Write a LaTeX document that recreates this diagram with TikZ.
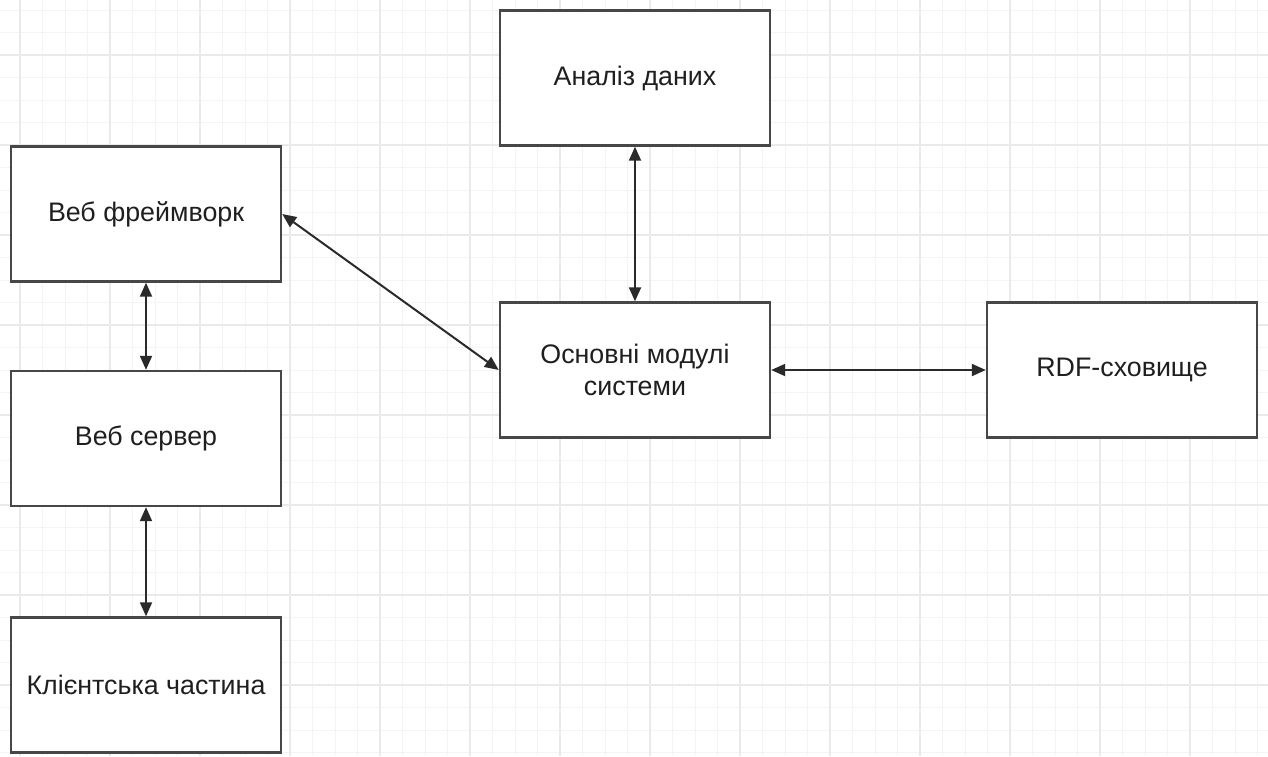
\documentclass[tikz,border=0pt]{standalone}
\usepackage{fontspec}
\setmainfont{Liberation Sans}
\usetikzlibrary{arrows.meta}
\definecolor{ramka}{HTML}{474747}
\definecolor{lin}{HTML}{2A2A2A}
\definecolor{sitka}{HTML}{F4F4F4}
\definecolor{sitkab}{HTML}{EAEAEA}
\begin{document}
\begin{tikzpicture}[x=1pt,y=-1pt,
  blok/.style={draw=ramka,line width=2.4pt,fill=white,minimum width=270pt,
    minimum height=135pt,inner sep=0pt,align=center,text=black!88,
    font=\fontsize{26.8}{32}\selectfont},
  zv/.style={lin,line width=2pt,{Triangle[length=14pt,width=12pt]}-{Triangle[length=14pt,width=12pt]}}]
\useasboundingbox (0,0) rectangle (1268,756);
\fill[white] (0,0) rectangle (1268,756);
% grid
\foreach \i in {0,...,55} \draw[sitka,line width=1pt] (20+22.5*\i,0) -- (20+22.5*\i,756);
\foreach \i in {0,...,33} \draw[sitka,line width=1pt] (0,10+22.5*\i) -- (1268,10+22.5*\i);
\foreach \i in {0,...,13} \draw[sitkab,line width=1.4pt] (20+90*\i,0) -- (20+90*\i,756);
\foreach \i in {0,...,7} \draw[sitkab,line width=1.4pt] (0,55+90*\i) -- (1268,55+90*\i);
% boxes
\node[blok] (analiz) at (635,78) {Аналіз даних};
\node[blok] (osnovni) at (635,370) {Основні модулі\\системи};
\node[blok] (rdf) at (1122,370) {RDF-сховище};
\node[blok] (freimvork) at (146,214) {Веб фреймворк};
\node[blok] (server) at (146,438.5) {Веб сервер};
\node[blok] (klient) at (146,685) {Клієнтська частина};
% links
\draw[zv] (analiz) -- (osnovni);
\draw[zv] (osnovni) -- (rdf);
\draw[zv] (freimvork.east) -- (osnovni.west);
\draw[zv] (freimvork) -- (server);
\draw[zv] (server) -- (klient);
\end{tikzpicture}
\end{document}
